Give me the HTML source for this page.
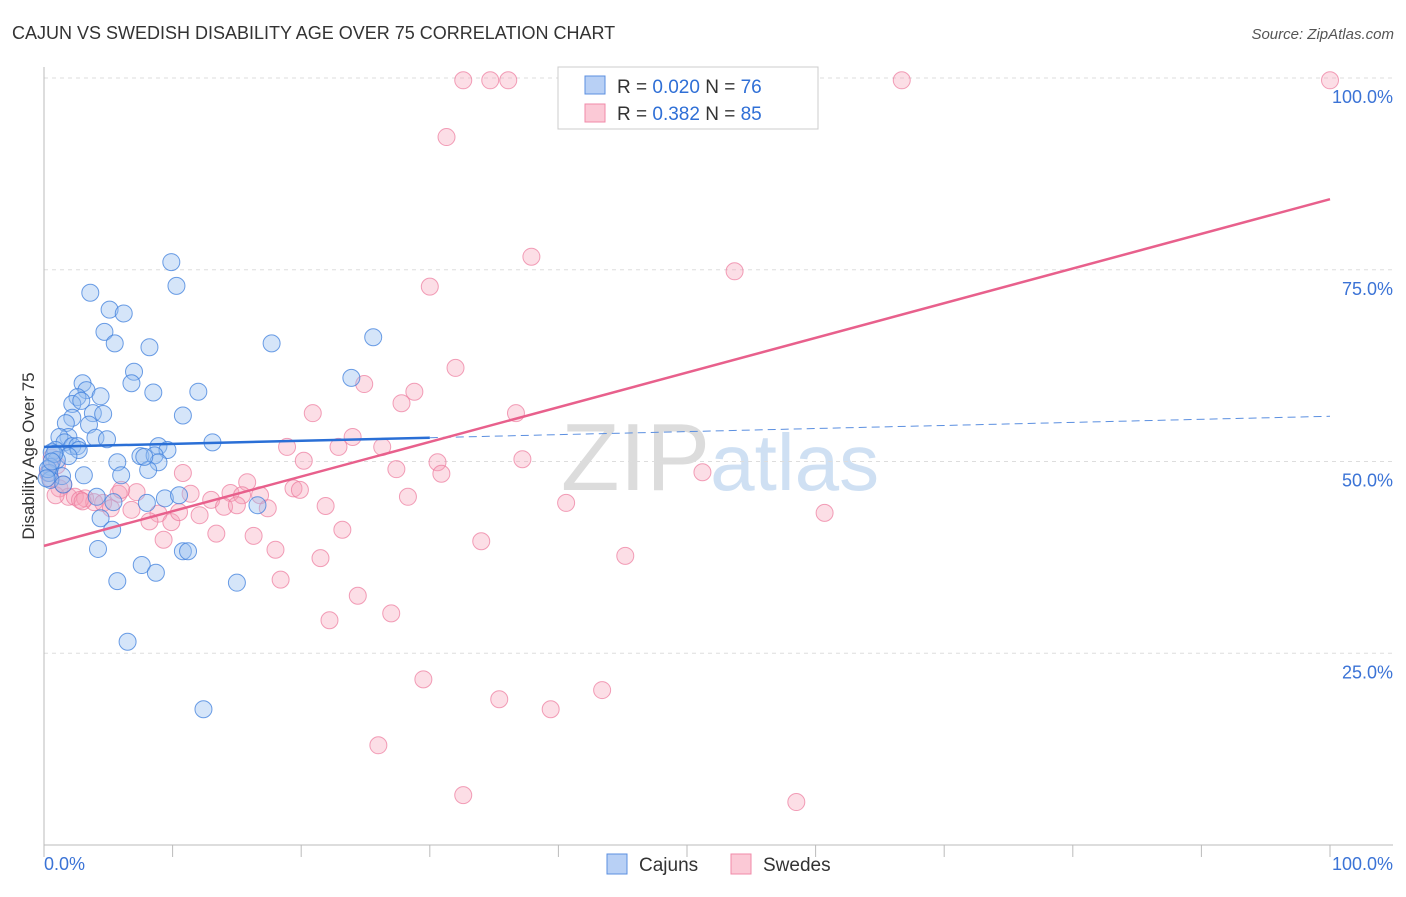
<!DOCTYPE html>
<html><head><meta charset="utf-8"><style>
body{margin:0;background:#fff;font-family:"Liberation Sans",sans-serif;}
svg text{font-family:"Liberation Sans",sans-serif;}
</style></head><body>
<svg id="chart" width="1406" height="892" xmlns="http://www.w3.org/2000/svg">
<text x="12" y="39" font-size="18" fill="#333">CAJUN VS SWEDISH DISABILITY AGE OVER 75 CORRELATION CHART</text>
<text x="1394" y="39" font-size="15" fill="#555" font-style="italic" text-anchor="end">Source: ZipAtlas.com</text>
<text x="720" y="490" font-size="96" fill="#d8d8d8" text-anchor="middle" font-family="Liberation Serif"><tspan fill="#dcdcdc">ZIP</tspan><tspan fill="#cfe0f3" font-family="Liberation Sans" font-size="80">atlas</tspan></text>
<g id="grid"></g><g id="axes"></g><g id="pts"></g><g id="trends"></g>
<text transform="translate(34,456) rotate(-90)" font-size="17" fill="#333" text-anchor="middle">Disability Age Over 75</text>
<g>
<rect x="558" y="67" width="260" height="62" fill="#fff" stroke="#ccc"/>
<rect x="585" y="76" width="20" height="18" fill="#b8d0f5" stroke="#5b8fe0"/>
<rect x="585" y="104" width="20" height="18" fill="#fbc9d6" stroke="#f08aa8"/>
<text x="617" y="93" font-size="19" fill="#333">R = <tspan fill="#2f6fd6">0.020</tspan>   N = <tspan fill="#2f6fd6">76</tspan></text>
<text x="617" y="120" font-size="19" fill="#333">R =  <tspan fill="#2f6fd6">0.382</tspan>   N = <tspan fill="#2f6fd6">85</tspan></text>
</g>
<g>
<rect x="607" y="854" width="20" height="20" fill="#b8d0f5" stroke="#5b8fe0"/>
<text x="639" y="871" font-size="19" fill="#333">Cajuns</text>
<rect x="731" y="854" width="20" height="20" fill="#fbc9d6" stroke="#f08aa8"/>
<text x="763" y="871" font-size="19" fill="#333">Swedes</text>
</g>
</svg>
<script>
const yTicks=[25,50,75,100];
const yTickLabels=["25.0%","50.0%","75.0%","100.0%"];
const xTickLabels=["0.0%","100.0%"];
const cajunX=[9.9,10.3,3.6,5.1,6.2,4.7,5.5,8.2,17.7,25.6,7.0,6.8,3.0,3.3,12.0,8.5,23.9,2.6,4.4,2.2,2.9,10.8,3.8,4.6,2.2,1.7,3.5,1.9,1.2,4.0,4.9,13.1,1.6,2.2,2.6,8.9,9.6,0.9,2.7,0.6,7.5,8.6,5.7,8.9,1.9,1.0,0.5,8.1,6.0,3.1,1.4,0.4,0.5,4.1,9.4,10.5,16.6,8.0,5.4,4.4,5.3,4.2,10.8,11.2,7.6,8.7,5.7,15.0,6.5,12.4,0.3,0.8,1.5,7.8,0.2,0.6];
const cajunY=[76.0,72.9,72.0,69.8,69.3,66.9,65.4,64.9,65.4,66.2,61.7,60.2,60.2,59.3,59.1,59.0,60.9,58.4,58.5,57.5,57.9,56.0,56.3,56.2,55.7,55.0,54.8,53.2,53.2,53.1,52.9,52.5,52.5,52.0,52.0,52.0,51.5,51.5,51.5,51.2,50.7,50.8,49.9,49.9,50.7,50.2,49.3,48.9,48.2,48.2,48.1,48.5,47.6,45.4,45.2,45.6,44.3,44.6,44.7,42.6,41.1,38.6,38.3,38.3,36.5,35.5,34.4,34.2,26.5,17.7,49.0,51.0,47.0,50.6,47.8,50.0];
const swedeX=[32.6,34.7,36.1,54.1,66.7,100,31.3,37.9,53.7,30.0,32.0,24.9,28.8,27.8,20.9,36.7,24.0,18.9,22.9,26.3,20.2,37.2,30.6,27.4,30.9,51.2,10.8,15.8,19.4,19.9,16.8,14.5,15.4,28.3,13.0,11.4,7.2,5.8,1.2,1.9,2.4,3.2,3.9,4.6,5.2,6.8,8.9,8.2,9.9,10.5,12.1,14.0,15.0,17.4,21.9,40.6,60.7,9.3,13.4,16.3,23.2,34.0,18.0,21.5,45.2,18.4,24.4,27.0,22.2,29.5,43.4,35.4,39.4,26.0,32.6,58.5,0.5,0.9,1.5,2.8,0.3,1.0,3.0,6.0,0.6];
const swedeY=[99.7,99.7,99.7,99.7,99.7,99.7,92.3,76.7,74.8,72.8,62.2,60.1,59.1,57.6,56.3,56.3,53.2,51.9,51.9,51.9,50.1,50.3,49.9,49.0,48.4,48.6,48.5,47.3,46.5,46.3,45.6,45.9,45.6,45.4,45.0,45.8,46.0,45.8,46.5,45.4,45.4,45.2,44.7,44.6,43.9,43.7,43.2,42.2,42.1,43.4,43.0,44.1,44.3,43.9,44.2,44.6,43.3,39.8,40.6,40.3,41.1,39.6,38.5,37.4,37.7,34.6,32.5,30.2,29.3,21.6,20.2,19.0,17.7,13.0,6.5,5.6,47.8,45.6,47.0,45.0,48.5,49.5,44.8,46.3,50.5];
const cajunTrend=[51.9,55.9];
const swedeTrend=[39.0,84.2];
const NS="http://www.w3.org/2000/svg";
function X(v){return 44+v*12.86;}
function Y(v){return 845-v*7.67;}
function mk(tag,attrs,parent){const e=document.createElementNS(NS,tag);for(const k in attrs)e.setAttribute(k,attrs[k]);parent.appendChild(e);return e;}
const grid=document.getElementById('grid'),axes=document.getElementById('axes'),pts=document.getElementById('pts'),tr=document.getElementById('trends');
yTicks.forEach((t,i)=>{
 const l=mk('line',{x1:44,x2:1393,y1:Y(t),y2:Y(t),stroke:'#ddd','stroke-dasharray':'4,4'},grid);
 
 
 const tx=mk('text',{x:1393,y:Y(t)+25,'font-size':18,fill:'#3b73d6','text-anchor':'end'},grid);
 tx.textContent=yTickLabels[i];
 
 
});
const ax=mk('line',{x1:44,x2:44,y1:67,y2:845,stroke:'#bbb'},axes);


const bx=mk('line',{x1:44,x2:1393,y1:845,y2:845,stroke:'#bbb'},axes);


for(let i=0;i<=10;i++){
 const t=mk('line',{x1:X(i*10),x2:X(i*10),y1:845,y2:857,stroke:'#bbb'},axes);
 
 
}
[[0,'start',44],[100,'end',1393]].forEach((d,i)=>{
 const t=mk('text',{x:d[2],y:870,'font-size':18,fill:'#3b73d6','text-anchor':d[1]},axes);
 t.textContent=xTickLabels[i];
 
 
});
swedeX.forEach((x,i)=>{
 const c=mk('circle',{cx:X(x),cy:Y(swedeY[i]),r:8.5,fill:'rgba(246,160,184,0.35)',stroke:'rgba(236,120,155,0.7)','stroke-width':1},pts);
 
 
});
cajunX.forEach((x,i)=>{
 const c=mk('circle',{cx:X(x),cy:Y(cajunY[i]),r:8.5,fill:'rgba(150,190,240,0.4)',stroke:'rgba(60,125,220,0.75)','stroke-width':1},pts);
 
 
});
const cy=v=>cajunTrend[0]+(cajunTrend[1]-cajunTrend[0])*v/100;
const l1=mk('line',{x1:X(0),y1:Y(cy(0)),x2:X(30),y2:Y(cy(30)),stroke:'#2a6fd6','stroke-width':2.5},tr);


const l2=mk('line',{x1:X(30),y1:Y(cy(30)),x2:X(100),y2:Y(cy(100)),stroke:'#5b8fe0','stroke-width':1,'stroke-dasharray':'8,5'},tr);


const l3=mk('line',{x1:X(0),y1:Y(swedeTrend[0]),x2:X(100),y2:Y(swedeTrend[1]),stroke:'#e8608c','stroke-width':2.5},tr);


</script>
</body></html>
